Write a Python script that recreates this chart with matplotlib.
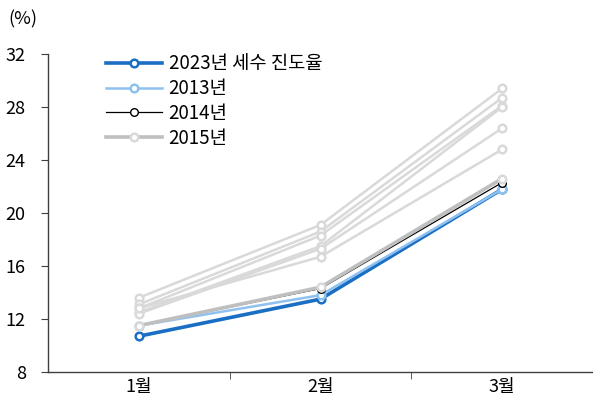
import numpy as np
import matplotlib.pyplot as plt

plt.rcParams['font.family'] = ['Noto Sans CJK KR', 'DejaVu Sans']

months = ['1월', '2월', '3월']

# 다른 연도 (회색)
other_years = [
    [13.6, 19.1, 29.4],
    [13.1, 18.6, 28.7],
    [12.8, 18.3, 28.1],
    [12.5, 17.5, 28.0],
    [12.4, 17.3, 26.4],
    [12.8, 16.7, 24.8],
]
y2015 = [11.5, 14.4, 22.6]
y2014 = [11.5, 14.3, 22.3]
y2013 = [11.5, 13.8, 21.8]
y2023 = [10.7, 13.5, 21.8]

x = np.arange(len(months))

fig = plt.figure(figsize=(5.93, 4.05), dpi=100)
ax = fig.add_axes([48/593, 33/405, 545/593, 318/405])

mk = dict(marker='o', markerfacecolor='white', markersize=5.5, markeredgewidth=1.8)

for vals in other_years:
    ax.plot(x, vals, color='#d9d9d9', lw=1.8, markeredgecolor='#d9d9d9', zorder=2, **mk)

ax.plot(x, y2023, color='#1a6fc4', lw=2.6, markeredgecolor='#1a6fc4', label='2023년 세수 진도율', zorder=3, **mk)
ax.plot(x, y2013, color='#8ec1f0', lw=1.8, markeredgecolor='#8ec1f0', label='2013년', zorder=4, **mk)
ax.plot(x, y2014, color='black', lw=0.9, marker='o', markerfacecolor='white',
        markeredgecolor='black', markersize=5.5, markeredgewidth=1.0, label='2014년', zorder=5)
ax.plot(x, y2015, color='#bfbfbf', lw=2.6, markeredgecolor='#d9d9d9', label='2015년', zorder=6, **mk)

ax.set_xlim(-0.5, 2.5)
ax.set_ylim(8, 32)
ax.set_yticks(np.arange(8, 33, 4))
ax.set_xticks(x)
ax.set_xticklabels(months)
ax.set_xticks([0.5, 1.5], minor=True)
ax.tick_params(axis='x', which='major', length=0, pad=4, labelsize=13)
ax.tick_params(axis='x', which='minor', length=5, color='#404040', direction='out')
ax.tick_params(axis='y', length=5, color='#404040', direction='out', pad=11, labelsize=13)

for s in ['top', 'right']:
    ax.spines[s].set_visible(False)
for s in ['left', 'bottom']:
    ax.spines[s].set_color('#404040')
    ax.spines[s].set_linewidth(1.0)

handles, labels = ax.get_legend_handles_labels()
ax.legend(handles, labels,
          loc='upper left', bbox_to_anchor=(0.075, 1.055), frameon=False,
          fontsize=13.5, handlelength=3.0, handletextpad=0.35, labelspacing=0.2)

fig.text(8/593, 1 - 19/405, '(%)', fontsize=13, va='center', ha='left')

fig.savefig('out.png', dpi=100)
